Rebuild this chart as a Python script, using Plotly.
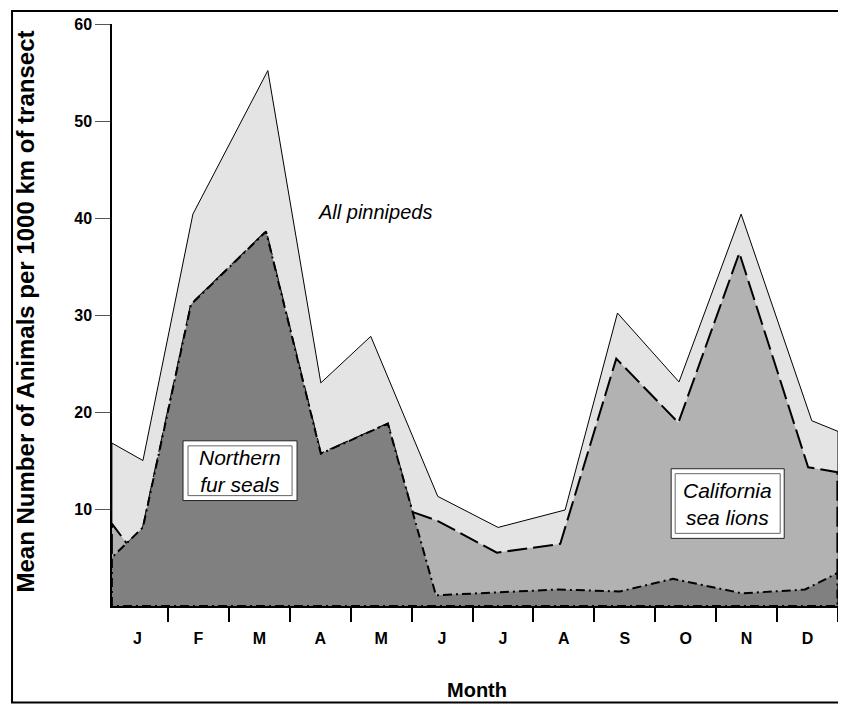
import plotly.graph_objects as go

# ---- data (x in months from 1 Jan; values in animals per 1000 km) ----
months = ["J", "F", "M", "A", "M", "J", "J", "A", "S", "O", "N", "D"]
month_centers = [0.5 + i for i in range(12)]
month_bounds = [1 + i for i in range(12)]

all_x = [0.08, 0.59, 1.41, 2.64, 3.51, 4.33, 5.43, 6.42, 7.52, 8.38, 9.39, 10.41, 11.57, 12.0]
all_y = [16.8, 15.0, 40.4, 55.2, 23.0, 27.8, 11.3, 8.1, 9.9, 30.2, 23.1, 40.4, 19.1, 18.0]

tot_x = [0.08, 0.33, 0.59, 1.38, 2.61, 3.51, 4.61, 5.01, 5.42, 6.40, 7.44, 8.36, 9.38, 10.38, 11.51, 11.99]
tot_y = [8.5, 6.4, 8.1, 31.1, 38.6, 15.7, 18.8, 9.7, 8.8, 5.5, 6.4, 25.5, 18.9, 36.4, 14.3, 13.8]

nfs_x = [0.08, 0.59, 1.38, 2.61, 3.51, 4.61, 5.01, 5.40, 7.39, 8.42, 9.29, 10.43, 11.46, 11.99]
nfs_y = [5.0, 8.1, 31.1, 38.6, 15.7, 18.8, 9.7, 1.1, 1.7, 1.5, 2.8, 1.3, 1.7, 3.4]

y_ticks = [10, 20, 30, 40, 50, 60]

FONT = "Liberation Sans, Arial, Helvetica, sans-serif"


def poly(xs, ys):
    px = [xs[0]] + xs + [xs[-1], xs[0]]
    py = [0] + ys + [0, 0]
    return px, py


fig = go.Figure()

for xs, ys, fill, dash, width in [
    (all_x, all_y, "#e4e4e4", "solid", 1),
    (tot_x, tot_y, "#b2b2b2", "20px,6px", 2),
    (nfs_x, nfs_y, "#808080", "9px,4px,2px,4px", 2),
]:
    px, py = poly(xs, ys)
    fig.add_trace(go.Scatter(
        x=px, y=py, mode="lines", fill="toself", fillcolor=fill,
        line=dict(color="black", width=width, dash=dash),
        hoverinfo="skip", showlegend=False,
    ))

fig.update_xaxes(
    range=[0.082, 12], showgrid=False, zeroline=False,
    showline=True, linecolor="black", linewidth=1.5,
    tickmode="array", tickvals=month_centers, ticktext=months,
    ticks="outside", ticklen=17, tickcolor="rgba(0,0,0,0)",
    tickfont=dict(family=FONT, size=16, color="black", weight="bold"),
    minor=dict(tickmode="array", tickvals=month_bounds, ticks="outside",
               ticklen=14, tickcolor="black", tickwidth=2, showgrid=False),
)
fig.update_yaxes(
    range=[0, 60], showgrid=False, zeroline=False,
    showline=True, linecolor="black", linewidth=1.5,
    tickmode="array", tickvals=y_ticks,
    ticks="outside", ticklen=15, tickcolor="#555", tickwidth=1,
    tickfont=dict(family=FONT, size=16, color="black", weight="bold"),
)

shapes = [
    # outer frame
    dict(type="rect", xref="paper", yref="paper", x0=-0.1377, x1=1.0069,
         y0=-0.1658, y1=1.0222, line=dict(color="black", width=2), layer="above"),
    # Northern fur seals box
    dict(type="rect", xref="x", yref="y", x0=1.248, x1=3.120, y0=10.87, y1=17.03,
         fillcolor="white", line=dict(color="#222", width=1), layer="above"),
    dict(type="rect", xref="x", yref="y", x0=1.330, x1=3.038, y0=11.38, y1=16.51,
         line=dict(color="#666", width=1), layer="above"),
    # California sea lions box
    dict(type="rect", xref="x", yref="y", x0=9.261, x1=11.117, y0=6.97, y1=14.15,
         fillcolor="white", line=dict(color="#222", width=1), layer="above"),
    dict(type="rect", xref="x", yref="y", x0=9.327, x1=11.051, y0=7.49, y1=13.64,
         line=dict(color="#666", width=1), layer="above"),
]

annotations = [
    dict(x=2.184, y=13.95, xref="x", yref="y", text="<i>Northern<br>fur seals</i>",
         showarrow=False, font=dict(family=FONT, size=21, color="black")),
    dict(x=10.19, y=10.56, xref="x", yref="y", text="<i>California<br>sea lions</i>",
         showarrow=False, font=dict(family=FONT, size=21, color="black")),
    dict(x=4.40, y=40.6, xref="x", yref="y", text="<i>All pinnipeds</i>",
         showarrow=False, font=dict(family=FONT, size=20, color="black")),
    dict(x=0.503, y=-0.1436, xref="paper", yref="paper", text="<b>Month</b>",
         showarrow=False, font=dict(family=FONT, size=20, color="black"),
         xanchor="center", yanchor="middle"),
    dict(x=-0.1185, y=0.506, xref="paper", yref="paper",
         text="<b>Mean Number of Animals per 1000 km of transect</b>",
         textangle=-90, showarrow=False,
         font=dict(family=FONT, size=24, color="black"),
         xanchor="center", yanchor="middle"),
]

# page body adds an 8px margin, so the figure is sized/placed to compensate
fig.update_layout(
    width=838, height=697, autosize=False,
    margin=dict(l=104, r=8, t=13, b=99),
    paper_bgcolor="white", plot_bgcolor="white",
    shapes=shapes, annotations=annotations, showlegend=False,
)

fig.write_html("out.html")
